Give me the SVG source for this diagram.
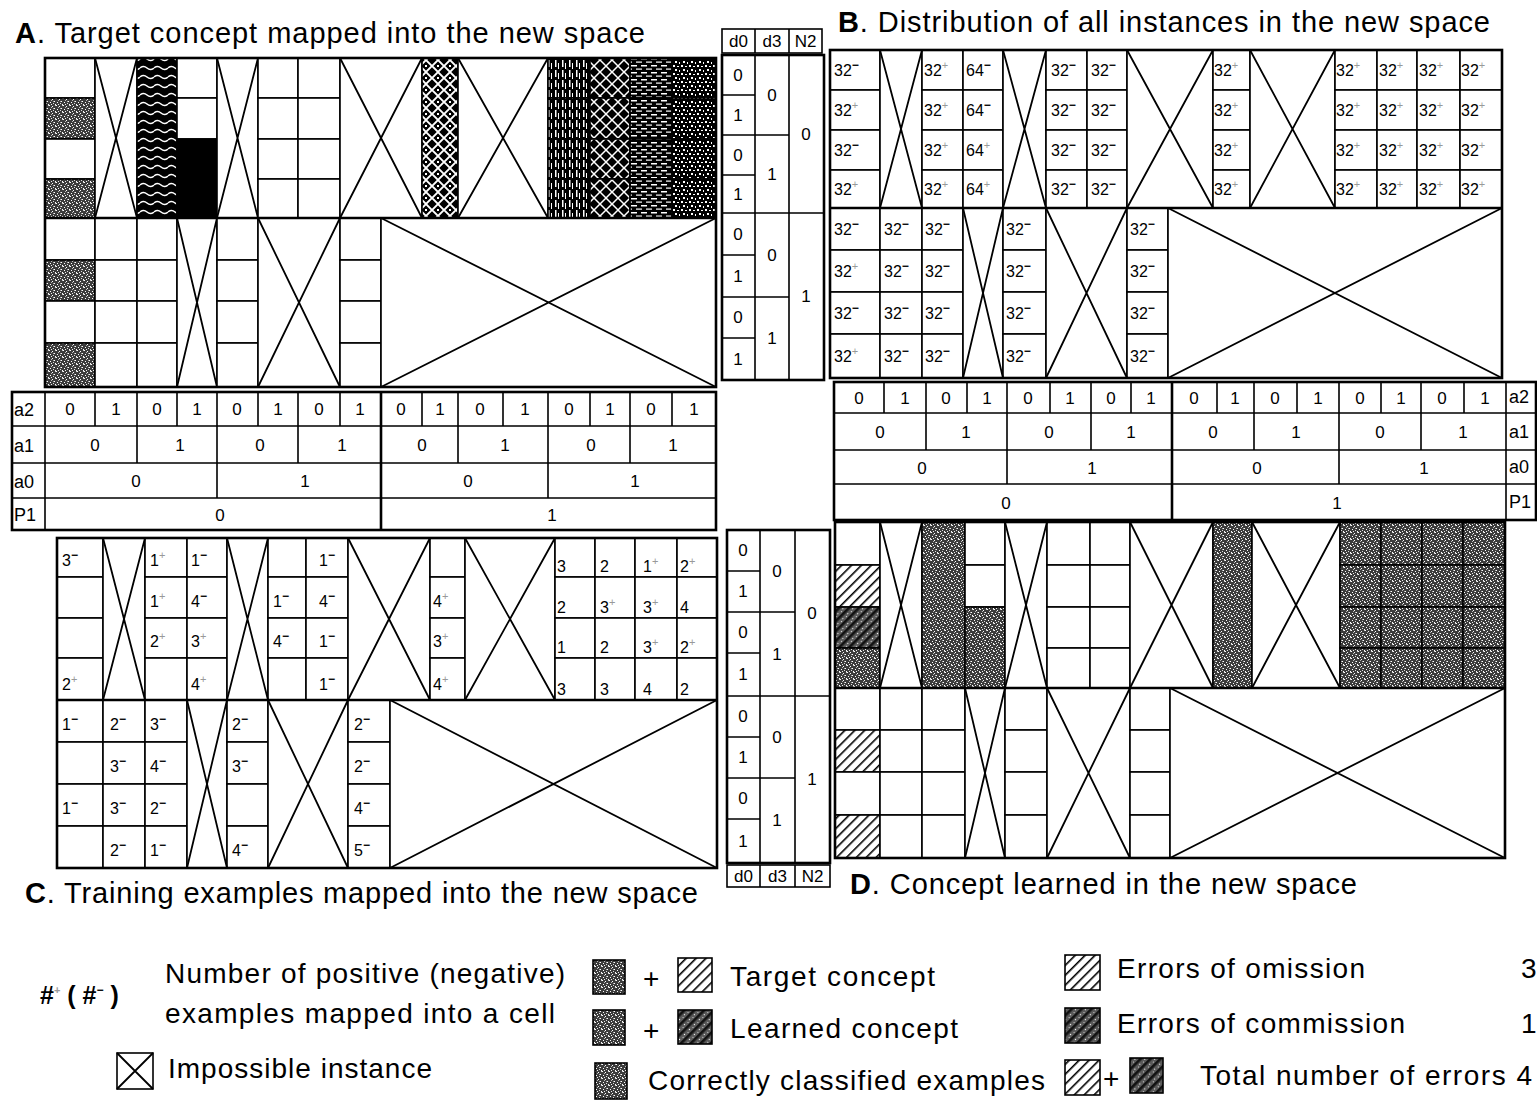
<svg xmlns="http://www.w3.org/2000/svg" width="1537" height="1106" viewBox="0 0 1537 1106">
<style>
.c{stroke:#000;stroke-width:1.6}
.o{fill:none;stroke:#000;stroke-width:2.6}
.l{stroke:#000;stroke-width:1.6;fill:none}
.xl{stroke:#000;stroke-width:1.8;fill:none}
text{font-family:"Liberation Sans",Arial,sans-serif;fill:#000}
.ttl{font-size:29px}
.n{font-size:16px}
.v{font-size:17px;text-anchor:middle}
.lb{font-size:18px}
.lg{font-size:28px}
.m{font-size:12px;font-weight:bold}
.p{font-size:11px;fill:#999}
</style>
<defs>
<pattern id="stip" width="7" height="7" patternUnits="userSpaceOnUse">
<rect width="7" height="7" fill="#3c3c3c"/>
<rect x="0" y="0" width="1" height="1" fill="#fff"/>
<rect x="3" y="1" width="1" height="1" fill="#fff"/>
<rect x="5" y="3" width="1" height="1" fill="#fff"/>
<rect x="1" y="4" width="1" height="1" fill="#fff"/>
<rect x="4" y="5" width="1" height="1" fill="#ddd"/>
<rect x="6" y="6" width="1" height="1" fill="#fff"/>
<rect x="2" y="2" width="1" height="1" fill="#bbb"/>
<rect x="6" y="0" width="1" height="1" fill="#ccc"/>
<rect x="2" y="6" width="1" height="1" fill="#eee"/>
<rect x="4" y="3" width="1" height="1" fill="#aaa"/>
</pattern>
<pattern id="wavy" width="14" height="9" patternUnits="userSpaceOnUse">
<rect width="14" height="9" fill="#000"/>
<path d="M0 5 Q3.5 2 7 5 T14 5" fill="none" stroke="#fff" stroke-width="1.6"/>
</pattern>
<pattern id="lat" width="12" height="12" patternUnits="userSpaceOnUse">
<rect width="12" height="12" fill="#000"/>
<path d="M0 6L6 0L12 6L6 12Z" fill="none" stroke="#fff" stroke-width="1.8"/>
<rect x="5" y="5" width="2" height="2" fill="#fff"/>
</pattern>
<pattern id="vst" width="7" height="10" patternUnits="userSpaceOnUse">
<rect width="7" height="10" fill="#000"/>
<rect x="2" y="0" width="1.5" height="7" fill="#fff"/>
<rect x="5" y="3" width="1" height="6" fill="#fff"/>
</pattern>
<pattern id="xh" width="12" height="12" patternUnits="userSpaceOnUse">
<rect width="12" height="12" fill="#000"/>
<path d="M0 0L12 12M12 0L0 12" stroke="#fff" stroke-width="1.5"/>
</pattern>
<pattern id="hd" width="10" height="7" patternUnits="userSpaceOnUse">
<rect width="10" height="7" fill="#000"/>
<rect x="1" y="2" width="6" height="1.5" fill="#fff"/>
<rect x="6" y="5.5" width="4" height="1.2" fill="#fff"/>
<rect x="0" y="5.5" width="2" height="1.2" fill="#fff"/>
</pattern>
<pattern id="dot" width="8" height="8" patternUnits="userSpaceOnUse">
<rect width="8" height="8" fill="#000"/>
<rect x="1" y="1" width="2" height="2" fill="#fff"/>
<rect x="5" y="2" width="2" height="1" fill="#fff"/>
<rect x="3" y="5" width="2" height="2" fill="#fff"/>
<rect x="7" y="6" width="1" height="2" fill="#fff"/>
</pattern>
<pattern id="hat" width="7" height="7" patternUnits="userSpaceOnUse" patternTransform="rotate(45)">
<rect width="7" height="7" fill="#fff"/>
<rect width="1.6" height="7" fill="#000"/>
</pattern>
<pattern id="dht" width="7" height="7" patternUnits="userSpaceOnUse" patternTransform="rotate(45)">
<rect width="7" height="7" fill="#5a5a5a"/>
<rect width="2.6" height="7" fill="#111"/>
<rect x="4" y="2" width="1" height="1" fill="#fff"/>
<rect x="5" y="5" width="1" height="1" fill="#ddd"/>
</pattern>
</defs>
<rect width="1537" height="1106" fill="#fff"/>

<!-- Titles -->
<g id="titles">
<text class="ttl" x="15" y="43" textLength="630"><tspan font-weight="bold">A</tspan>. Target concept mapped into the new space</text>
<text class="ttl" x="838" y="32" textLength="652"><tspan font-weight="bold">B</tspan>. Distribution of all instances in the new space</text>
<text class="ttl" x="25" y="903" textLength="673"><tspan font-weight="bold">C</tspan>. Training examples mapped into the new space</text>
<text class="ttl" x="850" y="894" textLength="507"><tspan font-weight="bold">D</tspan>. Concept learned in the new space</text>
</g>

<!-- Panel A -->
<g id="panelA">
<rect x="45" y="58" width="50" height="40" class="c" fill="#fff"/>
<rect x="45" y="98" width="50" height="41" class="c" fill="url(#stip)"/>
<rect x="45" y="139" width="50" height="40" class="c" fill="#fff"/>
<rect x="45" y="179" width="50" height="39" class="c" fill="url(#stip)"/>
<rect x="95" y="58" width="42" height="160" class="c" fill="#fff"/>
<path class="xl" d="M95 58L137 218M137 58L95 218"/>
<rect x="137" y="58" width="40" height="160" class="c" fill="url(#wavy)"/>
<rect x="177" y="58" width="40" height="40" class="c" fill="#fff"/>
<rect x="177" y="98" width="40" height="41" class="c" fill="#fff"/>
<rect x="177" y="139" width="40" height="79" class="c" fill="#000"/>
<rect x="217" y="58" width="41" height="160" class="c" fill="#fff"/>
<path class="xl" d="M217 58L258 218M258 58L217 218"/>
<rect x="258" y="58" width="40" height="40" class="c" fill="#fff"/>
<rect x="258" y="98" width="40" height="41" class="c" fill="#fff"/>
<rect x="258" y="139" width="40" height="40" class="c" fill="#fff"/>
<rect x="258" y="179" width="40" height="39" class="c" fill="#fff"/>
<rect x="298" y="58" width="42" height="40" class="c" fill="#fff"/>
<rect x="298" y="98" width="42" height="41" class="c" fill="#fff"/>
<rect x="298" y="139" width="42" height="40" class="c" fill="#fff"/>
<rect x="298" y="179" width="42" height="39" class="c" fill="#fff"/>
<rect x="340" y="58" width="82" height="160" class="c" fill="#fff"/>
<path class="xl" d="M340 58L422 218M422 58L340 218"/>
<rect x="422" y="58" width="36" height="160" class="c" fill="url(#lat)"/>
<rect x="458" y="58" width="90" height="160" class="c" fill="#fff"/>
<path class="xl" d="M458 58L548 218M548 58L458 218"/>
<rect x="548" y="58" width="42" height="40" class="c" fill="url(#vst)"/>
<rect x="548" y="98" width="42" height="41" class="c" fill="url(#vst)"/>
<rect x="548" y="139" width="42" height="40" class="c" fill="url(#vst)"/>
<rect x="548" y="179" width="42" height="39" class="c" fill="url(#vst)"/>
<rect x="590" y="58" width="40" height="40" class="c" fill="url(#xh)"/>
<rect x="590" y="98" width="40" height="41" class="c" fill="url(#xh)"/>
<rect x="590" y="139" width="40" height="40" class="c" fill="url(#xh)"/>
<rect x="590" y="179" width="40" height="39" class="c" fill="url(#xh)"/>
<rect x="630" y="58" width="42" height="40" class="c" fill="url(#hd)"/>
<rect x="630" y="98" width="42" height="41" class="c" fill="url(#hd)"/>
<rect x="630" y="139" width="42" height="40" class="c" fill="url(#hd)"/>
<rect x="630" y="179" width="42" height="39" class="c" fill="url(#hd)"/>
<rect x="672" y="58" width="44" height="40" class="c" fill="url(#dot)"/>
<rect x="672" y="98" width="44" height="41" class="c" fill="url(#dot)"/>
<rect x="672" y="139" width="44" height="40" class="c" fill="url(#dot)"/>
<rect x="672" y="179" width="44" height="39" class="c" fill="url(#dot)"/>
<rect x="45" y="218" width="50" height="42" class="c" fill="#fff"/>
<rect x="45" y="260" width="50" height="41" class="c" fill="url(#stip)"/>
<rect x="45" y="301" width="50" height="42" class="c" fill="#fff"/>
<rect x="45" y="343" width="50" height="44" class="c" fill="url(#stip)"/>
<rect x="95" y="218" width="42" height="42" class="c" fill="#fff"/>
<rect x="95" y="260" width="42" height="41" class="c" fill="#fff"/>
<rect x="95" y="301" width="42" height="42" class="c" fill="#fff"/>
<rect x="95" y="343" width="42" height="44" class="c" fill="#fff"/>
<rect x="137" y="218" width="40" height="42" class="c" fill="#fff"/>
<rect x="137" y="260" width="40" height="41" class="c" fill="#fff"/>
<rect x="137" y="301" width="40" height="42" class="c" fill="#fff"/>
<rect x="137" y="343" width="40" height="44" class="c" fill="#fff"/>
<rect x="177" y="218" width="40" height="169" class="c" fill="#fff"/>
<path class="xl" d="M177 218L217 387M217 218L177 387"/>
<rect x="217" y="218" width="41" height="42" class="c" fill="#fff"/>
<rect x="217" y="260" width="41" height="41" class="c" fill="#fff"/>
<rect x="217" y="301" width="41" height="42" class="c" fill="#fff"/>
<rect x="217" y="343" width="41" height="44" class="c" fill="#fff"/>
<rect x="258" y="218" width="82" height="169" class="c" fill="#fff"/>
<path class="xl" d="M258 218L340 387M340 218L258 387"/>
<rect x="340" y="218" width="41" height="42" class="c" fill="#fff"/>
<rect x="340" y="260" width="41" height="41" class="c" fill="#fff"/>
<rect x="340" y="301" width="41" height="42" class="c" fill="#fff"/>
<rect x="340" y="343" width="41" height="44" class="c" fill="#fff"/>
<rect x="381" y="218" width="335" height="169" class="c" fill="#fff"/>
<path class="xl" d="M381 218L716 387M716 218L381 387"/>
<rect x="45" y="58" width="671" height="329" class="o"/>
<path class="o" d="M45 218H716"/>
</g>

<!-- Table under A -->
<g id="tableA">
<rect x="12" y="392" width="704" height="138" class="o"/>
<path class="l" d="M12 426H716M12 463H716M12 498H716M45 392V530"/>
<path class="l" d="M95 392V426M177 392V426M258 392V426M340 392V426M422 392V426M503 392V426M590 392V426M672 392V426"/>
<path class="l" d="M137 392V463M298 392V463M458 392V463M630 392V463"/>
<path class="l" d="M217 392V498M548 392V498"/>
<path class="o" d="M381 392V530"/>
<text class="lb" x="14" y="416">a2</text>
<text class="lb" x="14" y="452">a1</text>
<text class="lb" x="14" y="488">a0</text>
<text class="lb" x="14" y="521">P1</text>
<text class="v" x="70" y="415">0</text><text class="v" x="116" y="415">1</text><text class="v" x="157" y="415">0</text><text class="v" x="197" y="415">1</text>
<text class="v" x="237" y="415">0</text><text class="v" x="278" y="415">1</text><text class="v" x="319" y="415">0</text><text class="v" x="360" y="415">1</text>
<text class="v" x="401" y="415">0</text><text class="v" x="440" y="415">1</text><text class="v" x="480" y="415">0</text><text class="v" x="525" y="415">1</text>
<text class="v" x="569" y="415">0</text><text class="v" x="610" y="415">1</text><text class="v" x="651" y="415">0</text><text class="v" x="694" y="415">1</text>
<text class="v" x="95" y="451">0</text><text class="v" x="180" y="451">1</text><text class="v" x="260" y="451">0</text><text class="v" x="342" y="451">1</text>
<text class="v" x="422" y="451">0</text><text class="v" x="505" y="451">1</text><text class="v" x="591" y="451">0</text><text class="v" x="673" y="451">1</text>
<text class="v" x="136" y="487">0</text><text class="v" x="305" y="487">1</text><text class="v" x="468" y="487">0</text><text class="v" x="635" y="487">1</text>
<text class="v" x="220" y="521">0</text><text class="v" x="552" y="521">1</text>
</g>

<!-- upper d0/d3/N2 table -->
<g id="tableUp">
<rect x="722" y="29" width="100" height="24" class="c" fill="#fff"/>
<path class="l" d="M755 29V53M789 29V53"/>
<text class="v" x="738.5" y="47">d0</text><text class="v" x="772" y="47">d3</text><text class="v" x="805.5" y="47">N2</text>
<rect x="722" y="55" width="102" height="325" class="o"/>
<path class="l" d="M755 55V380M789 55V380M722 95H755M722 135H789M722 175H755M722 213H824M722 255H755M722 297H789M722 338H755"/>
<text class="v" x="738" y="81">0</text><text class="v" x="738" y="121">1</text><text class="v" x="738" y="161">0</text><text class="v" x="738" y="200">1</text>
<text class="v" x="738" y="240">0</text><text class="v" x="738" y="282">1</text><text class="v" x="738" y="323">0</text><text class="v" x="738" y="365">1</text>
<text class="v" x="772" y="101">0</text><text class="v" x="772" y="180">1</text><text class="v" x="772" y="261">0</text><text class="v" x="772" y="344">1</text>
<text class="v" x="806" y="140">0</text><text class="v" x="806" y="302">1</text>
</g>

<!-- Panel B -->
<g id="panelB">
<rect x="830" y="50" width="672" height="328" fill="#fff"/>
<g fill="#fff" class="c">
<rect x="830" y="50" width="50" height="40"/><rect x="830" y="90" width="50" height="40"/><rect x="830" y="130" width="50" height="40"/><rect x="830" y="170" width="50" height="38"/>
<rect x="880" y="50" width="42" height="158"/>
<rect x="922" y="50" width="41" height="40"/><rect x="922" y="90" width="41" height="40"/><rect x="922" y="130" width="41" height="40"/><rect x="922" y="170" width="41" height="38"/>
<rect x="963" y="50" width="40" height="40"/><rect x="963" y="90" width="40" height="40"/><rect x="963" y="130" width="40" height="40"/><rect x="963" y="170" width="40" height="38"/>
<rect x="1003" y="50" width="43" height="158"/>
<rect x="1046" y="50" width="41" height="40"/><rect x="1046" y="90" width="41" height="40"/><rect x="1046" y="130" width="41" height="40"/><rect x="1046" y="170" width="41" height="38"/>
<rect x="1087" y="50" width="40" height="40"/><rect x="1087" y="90" width="40" height="40"/><rect x="1087" y="130" width="40" height="40"/><rect x="1087" y="170" width="40" height="38"/>
<rect x="1127" y="50" width="86" height="158"/>
<rect x="1213" y="50" width="37" height="40"/><rect x="1213" y="90" width="37" height="40"/><rect x="1213" y="130" width="37" height="40"/><rect x="1213" y="170" width="37" height="38"/>
<rect x="1250" y="50" width="85" height="158"/>
<rect x="1335" y="50" width="42" height="40"/><rect x="1335" y="90" width="42" height="40"/><rect x="1335" y="130" width="42" height="40"/><rect x="1335" y="170" width="42" height="38"/>
<rect x="1377" y="50" width="40" height="40"/><rect x="1377" y="90" width="40" height="40"/><rect x="1377" y="130" width="40" height="40"/><rect x="1377" y="170" width="40" height="38"/>
<rect x="1417" y="50" width="43" height="40"/><rect x="1417" y="90" width="43" height="40"/><rect x="1417" y="130" width="43" height="40"/><rect x="1417" y="170" width="43" height="38"/>
<rect x="1460" y="50" width="42" height="40"/><rect x="1460" y="90" width="42" height="40"/><rect x="1460" y="130" width="42" height="40"/><rect x="1460" y="170" width="42" height="38"/>
<rect x="830" y="208" width="50" height="42"/><rect x="830" y="250" width="50" height="42"/><rect x="830" y="292" width="50" height="42"/><rect x="830" y="334" width="50" height="44"/>
<rect x="880" y="208" width="42" height="42"/><rect x="880" y="250" width="42" height="42"/><rect x="880" y="292" width="42" height="42"/><rect x="880" y="334" width="42" height="44"/>
<rect x="922" y="208" width="41" height="42"/><rect x="922" y="250" width="41" height="42"/><rect x="922" y="292" width="41" height="42"/><rect x="922" y="334" width="41" height="44"/>
<rect x="963" y="208" width="40" height="170"/>
<rect x="1003" y="208" width="43" height="42"/><rect x="1003" y="250" width="43" height="42"/><rect x="1003" y="292" width="43" height="42"/><rect x="1003" y="334" width="43" height="44"/>
<rect x="1046" y="208" width="81" height="170"/>
<rect x="1127" y="208" width="41" height="42"/><rect x="1127" y="250" width="41" height="42"/><rect x="1127" y="292" width="41" height="42"/><rect x="1127" y="334" width="41" height="44"/>
<rect x="1168" y="208" width="334" height="170"/>
</g>
<path class="xl" d="M880 50L922 208M922 50L880 208M1003 50L1046 208M1046 50L1003 208M1127 50L1213 208M1213 50L1127 208M1250 50L1335 208M1335 50L1250 208"/>
<path class="xl" d="M963 208L1003 378M1003 208L963 378M1046 208L1127 378M1127 208L1046 378M1168 208L1502 378M1502 208L1168 378"/>
<rect x="830" y="50" width="672" height="328" class="o"/>
<path class="o" d="M830 208H1502"/>
<g class="n">
<text x="834" y="76">32<tspan class="m" dy="-7">−</tspan></text>
<text x="834" y="116">32<tspan class="p" dy="-7">+</tspan></text>
<text x="834" y="156">32<tspan class="m" dy="-7">−</tspan></text>
<text x="834" y="195">32<tspan class="p" dy="-7">+</tspan></text>
<text x="924" y="76">32<tspan class="p" dy="-7">+</tspan></text>
<text x="924" y="116">32<tspan class="p" dy="-7">+</tspan></text>
<text x="924" y="156">32<tspan class="p" dy="-7">+</tspan></text>
<text x="924" y="195">32<tspan class="p" dy="-7">+</tspan></text>
<text x="966" y="76">64<tspan class="m" dy="-7">−</tspan></text>
<text x="966" y="116">64<tspan class="m" dy="-7">−</tspan></text>
<text x="966" y="156">64<tspan class="p" dy="-7">+</tspan></text>
<text x="966" y="195">64<tspan class="p" dy="-7">+</tspan></text>
<text x="1051" y="76">32<tspan class="m" dy="-7">−</tspan></text>
<text x="1051" y="116">32<tspan class="m" dy="-7">−</tspan></text>
<text x="1051" y="156">32<tspan class="m" dy="-7">−</tspan></text>
<text x="1051" y="195">32<tspan class="m" dy="-7">−</tspan></text>
<text x="1091" y="76">32<tspan class="m" dy="-7">−</tspan></text>
<text x="1091" y="116">32<tspan class="m" dy="-7">−</tspan></text>
<text x="1091" y="156">32<tspan class="m" dy="-7">−</tspan></text>
<text x="1091" y="195">32<tspan class="m" dy="-7">−</tspan></text>
<text x="1214" y="76">32<tspan class="p" dy="-7">+</tspan></text>
<text x="1214" y="116">32<tspan class="p" dy="-7">+</tspan></text>
<text x="1214" y="156">32<tspan class="p" dy="-7">+</tspan></text>
<text x="1214" y="195">32<tspan class="p" dy="-7">+</tspan></text>
<text x="1336" y="76">32<tspan class="p" dy="-7">+</tspan></text>
<text x="1336" y="116">32<tspan class="p" dy="-7">+</tspan></text>
<text x="1336" y="156">32<tspan class="p" dy="-7">+</tspan></text>
<text x="1336" y="195">32<tspan class="p" dy="-7">+</tspan></text>
<text x="1379" y="76">32<tspan class="p" dy="-7">+</tspan></text>
<text x="1379" y="116">32<tspan class="p" dy="-7">+</tspan></text>
<text x="1379" y="156">32<tspan class="p" dy="-7">+</tspan></text>
<text x="1379" y="195">32<tspan class="p" dy="-7">+</tspan></text>
<text x="1419" y="76">32<tspan class="p" dy="-7">+</tspan></text>
<text x="1419" y="116">32<tspan class="p" dy="-7">+</tspan></text>
<text x="1419" y="156">32<tspan class="p" dy="-7">+</tspan></text>
<text x="1419" y="195">32<tspan class="p" dy="-7">+</tspan></text>
<text x="1461" y="76">32<tspan class="p" dy="-7">+</tspan></text>
<text x="1461" y="116">32<tspan class="p" dy="-7">+</tspan></text>
<text x="1461" y="156">32<tspan class="p" dy="-7">+</tspan></text>
<text x="1461" y="195">32<tspan class="p" dy="-7">+</tspan></text>
<text x="834" y="235">32<tspan class="m" dy="-7">−</tspan></text>
<text x="834" y="277">32<tspan class="p" dy="-7">+</tspan></text>
<text x="834" y="319">32<tspan class="m" dy="-7">−</tspan></text>
<text x="834" y="362">32<tspan class="p" dy="-7">+</tspan></text>
<text x="884" y="235">32<tspan class="m" dy="-7">−</tspan></text>
<text x="884" y="277">32<tspan class="m" dy="-7">−</tspan></text>
<text x="884" y="319">32<tspan class="m" dy="-7">−</tspan></text>
<text x="884" y="362">32<tspan class="m" dy="-7">−</tspan></text>
<text x="925" y="235">32<tspan class="m" dy="-7">−</tspan></text>
<text x="925" y="277">32<tspan class="m" dy="-7">−</tspan></text>
<text x="925" y="319">32<tspan class="m" dy="-7">−</tspan></text>
<text x="925" y="362">32<tspan class="m" dy="-7">−</tspan></text>
<text x="1006" y="235">32<tspan class="m" dy="-7">−</tspan></text>
<text x="1006" y="277">32<tspan class="m" dy="-7">−</tspan></text>
<text x="1006" y="319">32<tspan class="m" dy="-7">−</tspan></text>
<text x="1006" y="362">32<tspan class="m" dy="-7">−</tspan></text>
<text x="1130" y="235">32<tspan class="m" dy="-7">−</tspan></text>
<text x="1130" y="277">32<tspan class="m" dy="-7">−</tspan></text>
<text x="1130" y="319">32<tspan class="m" dy="-7">−</tspan></text>
<text x="1130" y="362">32<tspan class="m" dy="-7">−</tspan></text>
</g>
</g>

<!-- Table under B -->
<g id="tableB">
<rect x="834" y="382" width="702" height="138" class="o"/>
<path class="l" d="M834 413H1536M834 450H1536M834 484H1536M1506 382V520"/>
<path class="l" d="M884 382V413M967 382V413M1050 382V413M1131 382V413M1217 382V413M1297 382V413M1381 382V413M1464 382V413"/>
<path class="l" d="M926 382V450M1091 382V450M1254 382V450M1421 382V450"/>
<path class="l" d="M1007 382V484M1339 382V484"/>
<path class="o" d="M1172 382V520"/>
<text class="v" x="859" y="404">0</text><text class="v" x="905" y="404">1</text><text class="v" x="946" y="404">0</text><text class="v" x="987" y="404">1</text>
<text class="v" x="1028" y="404">0</text><text class="v" x="1070" y="404">1</text><text class="v" x="1111" y="404">0</text><text class="v" x="1151" y="404">1</text>
<text class="v" x="1194" y="404">0</text><text class="v" x="1235" y="404">1</text><text class="v" x="1275" y="404">0</text><text class="v" x="1318" y="404">1</text>
<text class="v" x="1360" y="404">0</text><text class="v" x="1401" y="404">1</text><text class="v" x="1442" y="404">0</text><text class="v" x="1485" y="404">1</text>
<text class="v" x="880" y="438">0</text><text class="v" x="966" y="438">1</text><text class="v" x="1049" y="438">0</text><text class="v" x="1131" y="438">1</text>
<text class="v" x="1213" y="438">0</text><text class="v" x="1296" y="438">1</text><text class="v" x="1380" y="438">0</text><text class="v" x="1463" y="438">1</text>
<text class="v" x="922" y="474">0</text><text class="v" x="1092" y="474">1</text><text class="v" x="1257" y="474">0</text><text class="v" x="1424" y="474">1</text>
<text class="v" x="1006" y="509">0</text><text class="v" x="1337" y="509">1</text>
<text class="lb" x="1509" y="403">a2</text>
<text class="lb" x="1509" y="438">a1</text>
<text class="lb" x="1509" y="473">a0</text>
<text class="lb" x="1509" y="508">P1</text>
</g>

<!-- Panel C -->
<g id="panelC">
<g fill="#fff" class="c">
<rect x="57" y="538" width="46" height="39"/><rect x="57" y="577" width="46" height="41"/><rect x="57" y="618" width="46" height="40"/><rect x="57" y="658" width="46" height="42"/>
<rect x="103" y="538" width="42" height="162"/>
<rect x="145" y="538" width="42" height="39"/><rect x="145" y="577" width="42" height="41"/><rect x="145" y="618" width="42" height="40"/><rect x="145" y="658" width="42" height="42"/>
<rect x="187" y="538" width="40" height="39"/><rect x="187" y="577" width="40" height="41"/><rect x="187" y="618" width="40" height="40"/><rect x="187" y="658" width="40" height="42"/>
<rect x="227" y="538" width="41" height="162"/>
<rect x="268" y="538" width="38" height="39"/><rect x="268" y="577" width="38" height="41"/><rect x="268" y="618" width="38" height="40"/><rect x="268" y="658" width="38" height="42"/>
<rect x="306" y="538" width="42" height="39"/><rect x="306" y="577" width="42" height="41"/><rect x="306" y="618" width="42" height="40"/><rect x="306" y="658" width="42" height="42"/>
<rect x="348" y="538" width="82" height="162"/>
<rect x="430" y="538" width="35" height="39"/><rect x="430" y="577" width="35" height="41"/><rect x="430" y="618" width="35" height="40"/><rect x="430" y="658" width="35" height="42"/>
<rect x="465" y="538" width="90" height="162"/>
<rect x="555" y="538" width="40" height="39"/><rect x="555" y="577" width="40" height="41"/><rect x="555" y="618" width="40" height="40"/><rect x="555" y="658" width="40" height="42"/>
<rect x="595" y="538" width="40" height="39"/><rect x="595" y="577" width="40" height="41"/><rect x="595" y="618" width="40" height="40"/><rect x="595" y="658" width="40" height="42"/>
<rect x="635" y="538" width="42" height="39"/><rect x="635" y="577" width="42" height="41"/><rect x="635" y="618" width="42" height="40"/><rect x="635" y="658" width="42" height="42"/>
<rect x="677" y="538" width="40" height="39"/><rect x="677" y="577" width="40" height="41"/><rect x="677" y="618" width="40" height="40"/><rect x="677" y="658" width="40" height="42"/>
<rect x="57" y="700" width="46" height="42"/><rect x="57" y="742" width="46" height="42"/><rect x="57" y="784" width="46" height="42"/><rect x="57" y="826" width="46" height="42"/>
<rect x="103" y="700" width="42" height="42"/><rect x="103" y="742" width="42" height="42"/><rect x="103" y="784" width="42" height="42"/><rect x="103" y="826" width="42" height="42"/>
<rect x="145" y="700" width="42" height="42"/><rect x="145" y="742" width="42" height="42"/><rect x="145" y="784" width="42" height="42"/><rect x="145" y="826" width="42" height="42"/>
<rect x="187" y="700" width="40" height="168"/>
<rect x="227" y="700" width="41" height="42"/><rect x="227" y="742" width="41" height="42"/><rect x="227" y="784" width="41" height="42"/><rect x="227" y="826" width="41" height="42"/>
<rect x="268" y="700" width="80" height="168"/>
<rect x="348" y="700" width="42" height="42"/><rect x="348" y="742" width="42" height="42"/><rect x="348" y="784" width="42" height="42"/><rect x="348" y="826" width="42" height="42"/>
<rect x="390" y="700" width="327" height="168"/>
</g>
<path class="xl" d="M103 538L145 700M145 538L103 700M227 538L268 700M268 538L227 700M348 538L430 700M430 538L348 700M465 538L555 700M555 538L465 700"/>
<path class="xl" d="M187 700L227 868M227 700L187 868M268 700L348 868M348 700L268 868M390 700L717 868M717 700L390 868"/>
<rect x="57" y="538" width="660" height="330" class="o"/>
<path class="o" d="M57 700H717"/>
<g class="n">
<text x="62" y="566">3<tspan class="m" dy="-7">−</tspan></text>
<text x="62" y="690">2<tspan class="p" dy="-7">+</tspan></text>
<text x="150" y="566">1<tspan class="p" dy="-7">+</tspan></text>
<text x="150" y="607">1<tspan class="p" dy="-7">+</tspan></text>
<text x="150" y="647">2<tspan class="p" dy="-7">+</tspan></text>
<text x="191" y="566">1<tspan class="m" dy="-7">−</tspan></text>
<text x="191" y="607">4<tspan class="m" dy="-7">−</tspan></text>
<text x="191" y="647">3<tspan class="p" dy="-7">+</tspan></text>
<text x="191" y="690">4<tspan class="p" dy="-7">+</tspan></text>
<text x="273" y="607">1<tspan class="m" dy="-7">−</tspan></text>
<text x="273" y="647">4<tspan class="m" dy="-7">−</tspan></text>
<text x="319" y="566">1<tspan class="m" dy="-7">−</tspan></text>
<text x="319" y="607">4<tspan class="m" dy="-7">−</tspan></text>
<text x="319" y="647">1<tspan class="m" dy="-7">−</tspan></text>
<text x="319" y="690">1<tspan class="m" dy="-7">−</tspan></text>
<text x="433" y="607">4<tspan class="p" dy="-7">+</tspan></text>
<text x="433" y="647">3<tspan class="p" dy="-7">+</tspan></text>
<text x="433" y="690">4<tspan class="p" dy="-7">+</tspan></text>
<text x="557" y="572">3</text><text x="557" y="613">2</text><text x="557" y="653">1</text><text x="557" y="695">3</text>
<text x="600" y="572">2</text><text x="600" y="613">3<tspan class="p" dy="-7">+</tspan></text><text x="600" y="653">2</text><text x="600" y="695">3</text>
<text x="643" y="572">1<tspan class="p" dy="-7">+</tspan></text><text x="643" y="613">3<tspan class="p" dy="-7">+</tspan></text><text x="643" y="653">3<tspan class="p" dy="-7">+</tspan></text><text x="643" y="695">4</text>
<text x="680" y="572">2<tspan class="p" dy="-7">+</tspan></text><text x="680" y="613">4</text><text x="680" y="653">2<tspan class="p" dy="-7">+</tspan></text><text x="680" y="695">2</text>
<text x="62" y="730">1<tspan class="m" dy="-7">−</tspan></text>
<text x="62" y="814">1<tspan class="m" dy="-7">−</tspan></text>
<text x="110" y="730">2<tspan class="m" dy="-7">−</tspan></text>
<text x="110" y="772">3<tspan class="m" dy="-7">−</tspan></text>
<text x="110" y="814">3<tspan class="m" dy="-7">−</tspan></text>
<text x="110" y="856">2<tspan class="m" dy="-7">−</tspan></text>
<text x="150" y="730">3<tspan class="m" dy="-7">−</tspan></text>
<text x="150" y="772">4<tspan class="m" dy="-7">−</tspan></text>
<text x="150" y="814">2<tspan class="m" dy="-7">−</tspan></text>
<text x="150" y="856">1<tspan class="m" dy="-7">−</tspan></text>
<text x="232" y="730">2<tspan class="m" dy="-7">−</tspan></text>
<text x="232" y="772">3<tspan class="m" dy="-7">−</tspan></text>
<text x="232" y="856">4<tspan class="m" dy="-7">−</tspan></text>
<text x="354" y="730">2<tspan class="m" dy="-7">−</tspan></text>
<text x="354" y="772">2<tspan class="m" dy="-7">−</tspan></text>
<text x="354" y="814">4<tspan class="m" dy="-7">−</tspan></text>
<text x="354" y="856">5<tspan class="m" dy="-7">−</tspan></text>
</g>
</g>

<!-- lower d0/d3/N2 table -->
<g id="tableLow">
<rect x="727" y="530" width="103" height="333" class="o"/>
<path class="l" d="M760 530V863M795 530V863M727 571H760M727 612H795M727 653H760M727 696H830M727 737H760M727 778H795M727 819H760"/>
<text class="v" x="743" y="556">0</text><text class="v" x="743" y="597">1</text><text class="v" x="743" y="638">0</text><text class="v" x="743" y="680">1</text>
<text class="v" x="743" y="722">0</text><text class="v" x="743" y="763">1</text><text class="v" x="743" y="804">0</text><text class="v" x="743" y="847">1</text>
<text class="v" x="777" y="577">0</text><text class="v" x="777" y="660">1</text><text class="v" x="777" y="743">0</text><text class="v" x="777" y="826">1</text>
<text class="v" x="812" y="619">0</text><text class="v" x="812" y="785">1</text>
<rect x="727" y="865" width="103" height="22" class="c" fill="#fff"/>
<path class="l" d="M760 865V887M795 865V887"/>
<text class="v" x="743.5" y="882">d0</text><text class="v" x="777.5" y="882">d3</text><text class="v" x="812.5" y="882">N2</text>
</g>

<!-- Panel D -->
<g id="panelD">
<g class="c">
<rect x="835" y="522" width="45" height="43" fill="#fff"/>
<rect x="835" y="565" width="45" height="42" fill="url(#hat)"/>
<rect x="835" y="607" width="45" height="41" fill="url(#dht)"/>
<rect x="835" y="648" width="45" height="40" fill="url(#stip)"/>
<rect x="880" y="522" width="42" height="166" fill="#fff"/>
<rect x="922" y="522" width="43" height="166" fill="url(#stip)"/>
<rect x="965" y="522" width="40" height="43" fill="#fff"/>
<rect x="965" y="565" width="40" height="42" fill="#fff"/>
<rect x="965" y="607" width="40" height="81" fill="url(#stip)"/>
<rect x="1005" y="522" width="42" height="166" fill="#fff"/>
<rect x="1047" y="522" width="43" height="43" fill="#fff"/><rect x="1047" y="565" width="43" height="42" fill="#fff"/><rect x="1047" y="607" width="43" height="41" fill="#fff"/><rect x="1047" y="648" width="43" height="40" fill="#fff"/>
<rect x="1090" y="522" width="40" height="43" fill="#fff"/><rect x="1090" y="565" width="40" height="42" fill="#fff"/><rect x="1090" y="607" width="40" height="41" fill="#fff"/><rect x="1090" y="648" width="40" height="40" fill="#fff"/>
<rect x="1130" y="522" width="83" height="166" fill="#fff"/>
<rect x="1213" y="522" width="39" height="166" fill="url(#stip)"/>
<rect x="1252" y="522" width="88" height="166" fill="#fff"/>
<rect x="1340" y="522" width="41" height="43" fill="url(#stip)"/><rect x="1340" y="565" width="41" height="42" fill="url(#stip)"/><rect x="1340" y="607" width="41" height="41" fill="url(#stip)"/><rect x="1340" y="648" width="41" height="40" fill="url(#stip)"/>
<rect x="1381" y="522" width="41" height="43" fill="url(#stip)"/><rect x="1381" y="565" width="41" height="42" fill="url(#stip)"/><rect x="1381" y="607" width="41" height="41" fill="url(#stip)"/><rect x="1381" y="648" width="41" height="40" fill="url(#stip)"/>
<rect x="1422" y="522" width="41" height="43" fill="url(#stip)"/><rect x="1422" y="565" width="41" height="42" fill="url(#stip)"/><rect x="1422" y="607" width="41" height="41" fill="url(#stip)"/><rect x="1422" y="648" width="41" height="40" fill="url(#stip)"/>
<rect x="1463" y="522" width="42" height="43" fill="url(#stip)"/><rect x="1463" y="565" width="42" height="42" fill="url(#stip)"/><rect x="1463" y="607" width="42" height="41" fill="url(#stip)"/><rect x="1463" y="648" width="42" height="40" fill="url(#stip)"/>
<rect x="835" y="688" width="45" height="42" fill="#fff"/>
<rect x="835" y="730" width="45" height="42" fill="url(#hat)"/>
<rect x="835" y="772" width="45" height="43" fill="#fff"/>
<rect x="835" y="815" width="45" height="43" fill="url(#hat)"/>
<rect x="880" y="688" width="42" height="42" fill="#fff"/><rect x="880" y="730" width="42" height="42" fill="#fff"/><rect x="880" y="772" width="42" height="43" fill="#fff"/><rect x="880" y="815" width="42" height="43" fill="#fff"/>
<rect x="922" y="688" width="43" height="42" fill="#fff"/><rect x="922" y="730" width="43" height="42" fill="#fff"/><rect x="922" y="772" width="43" height="43" fill="#fff"/><rect x="922" y="815" width="43" height="43" fill="#fff"/>
<rect x="965" y="688" width="40" height="170" fill="#fff"/>
<rect x="1005" y="688" width="42" height="42" fill="#fff"/><rect x="1005" y="730" width="42" height="42" fill="#fff"/><rect x="1005" y="772" width="42" height="43" fill="#fff"/><rect x="1005" y="815" width="42" height="43" fill="#fff"/>
<rect x="1047" y="688" width="83" height="170" fill="#fff"/>
<rect x="1130" y="688" width="40" height="42" fill="#fff"/><rect x="1130" y="730" width="40" height="42" fill="#fff"/><rect x="1130" y="772" width="40" height="43" fill="#fff"/><rect x="1130" y="815" width="40" height="43" fill="#fff"/>
<rect x="1170" y="688" width="335" height="170" fill="#fff"/>
</g>
<path class="xl" d="M880 522L922 688M922 522L880 688M1005 522L1047 688M1047 522L1005 688M1130 522L1213 688M1213 522L1130 688M1252 522L1340 688M1340 522L1252 688"/>
<path class="xl" d="M965 688L1005 858M1005 688L965 858M1047 688L1130 858M1130 688L1047 858M1170 688L1505 858M1505 688L1170 858"/>
<rect x="835" y="522" width="670" height="336" class="o"/>
<path class="o" d="M835 688H1505"/>
</g>

<!-- Legend -->
<g id="legend">
<text x="40" y="1004" font-size="25" font-weight="bold">#<tspan class="p" dy="-10">+</tspan><tspan dy="10"> ( #</tspan><tspan class="m" dy="-10">−</tspan><tspan dy="10"> )</tspan></text>
<text class="lg" x="165" y="983" textLength="400">Number of positive (negative)</text>
<text class="lg" x="165" y="1023" textLength="390">examples mapped into a cell</text>
<rect x="117" y="1053" width="36" height="36" class="c" fill="#fff"/>
<path class="xl" d="M117 1053L153 1089M153 1053L117 1089"/>
<text class="lg" x="168" y="1078" textLength="264">Impossible instance</text>
<rect x="593" y="960" width="32" height="34" class="c" fill="url(#stip)"/>
<text class="lg" x="643" y="988">+</text>
<rect x="678" y="958" width="34" height="34" class="c" fill="url(#hat)"/>
<text class="lg" x="730" y="986" textLength="205">Target concept</text>
<rect x="593" y="1010" width="32" height="35" class="c" fill="url(#stip)"/>
<text class="lg" x="643" y="1040">+</text>
<rect x="678" y="1010" width="34" height="34" class="c" fill="url(#dht)"/>
<text class="lg" x="730" y="1038" textLength="228">Learned concept</text>
<rect x="595" y="1063" width="32" height="36" class="c" fill="url(#stip)"/>
<text class="lg" x="648" y="1090" textLength="397">Correctly classified examples</text>
<rect x="1065" y="955" width="35" height="35" class="c" fill="url(#hat)"/>
<text class="lg" x="1117" y="978" textLength="248">Errors of omission</text>
<text class="lg" x="1521" y="978">3</text>
<rect x="1065" y="1008" width="35" height="35" class="c" fill="url(#dht)"/>
<text class="lg" x="1117" y="1033" textLength="288">Errors of commission</text>
<text class="lg" x="1521" y="1033">1</text>
<rect x="1065" y="1060" width="35" height="35" class="c" fill="url(#hat)"/>
<text class="lg" x="1103" y="1088">+</text>
<rect x="1130" y="1058" width="33" height="35" class="c" fill="url(#dht)"/>
<text class="lg" x="1200" y="1085" textLength="332">Total number of errors 4</text>
</g>
</svg>
